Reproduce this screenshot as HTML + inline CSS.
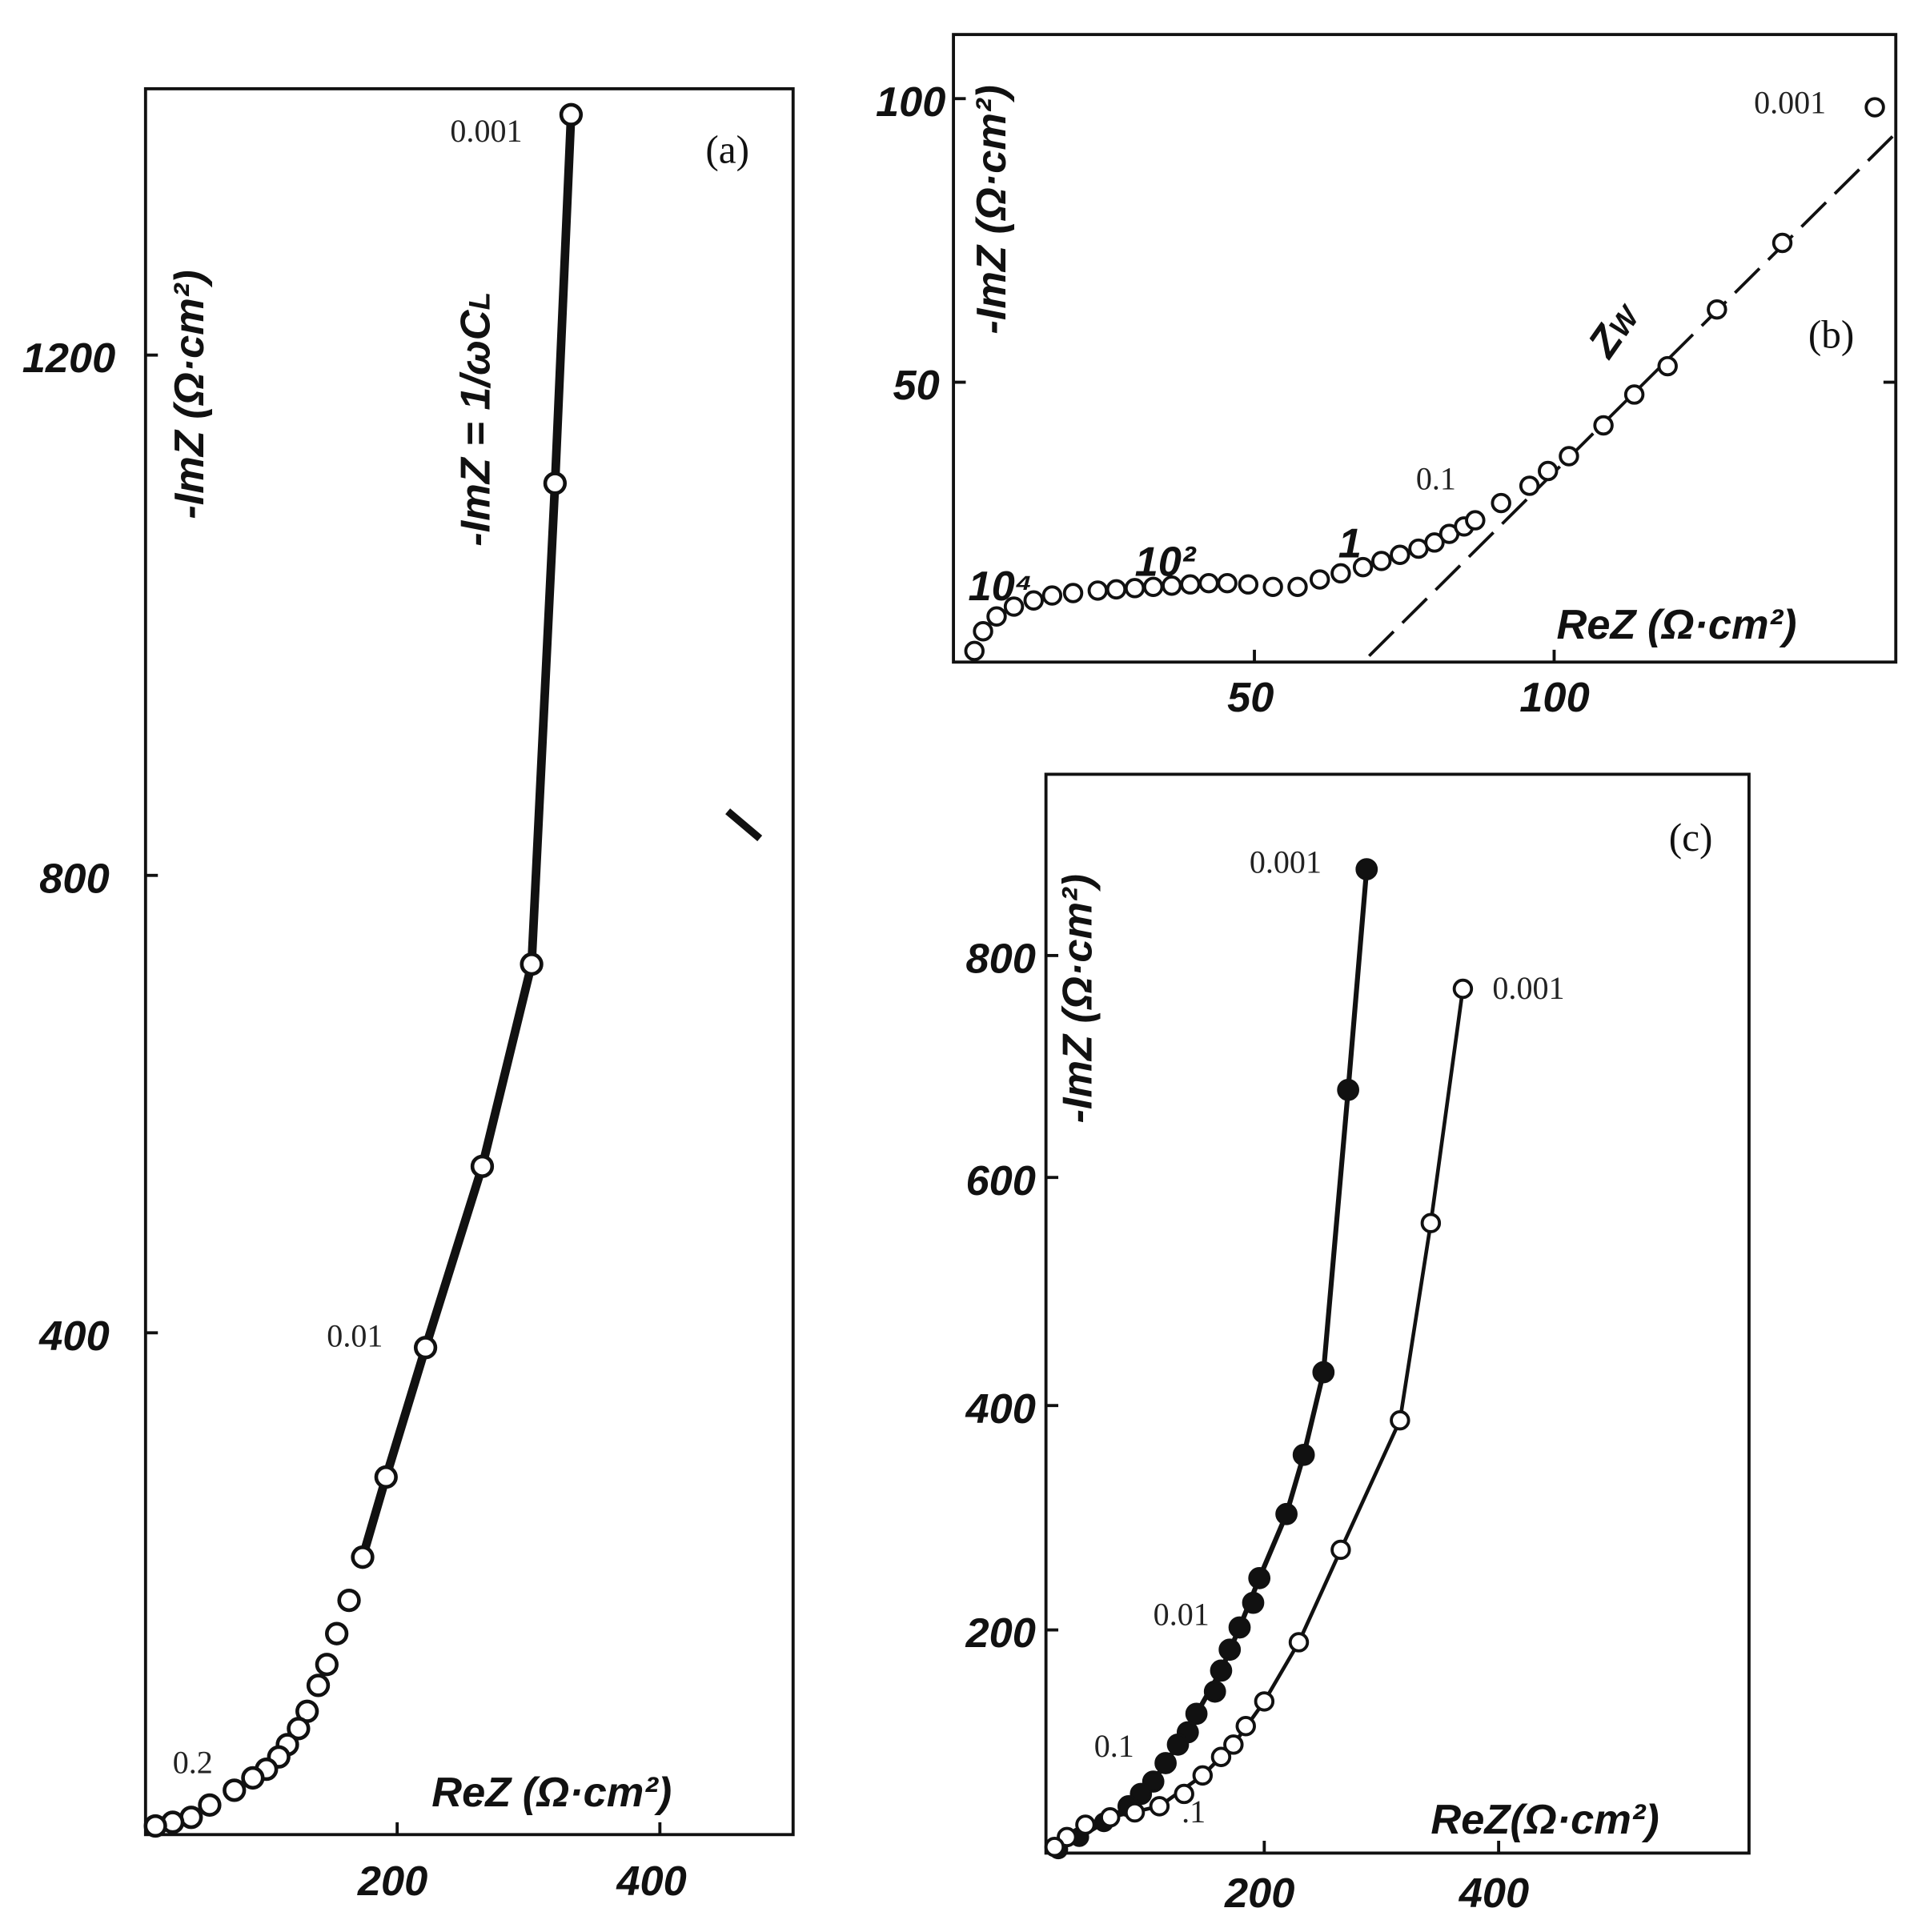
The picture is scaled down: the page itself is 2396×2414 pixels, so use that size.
<!DOCTYPE html>
<html><head><meta charset="utf-8"><style>
html,body{margin:0;padding:0;background:#fff;}
svg{display:block;}
.ax{font-family:"Liberation Sans",sans-serif;font-style:italic;font-weight:bold;font-size:34px;fill:#111;}
.lb{font-family:"Liberation Serif",serif;font-size:26px;fill:#222;}
.pn{font-family:"Liberation Serif",serif;font-size:32px;fill:#111;}
</style></head><body>
<svg width="2396" height="2414" viewBox="0 0 1555 1567" preserveAspectRatio="none" xmlns="http://www.w3.org/2000/svg">
<rect width="1555" height="1567" fill="#fff"/>
<!-- Panel a -->
<g fill="none" stroke="#111" stroke-width="2.5">
<rect x="118" y="72" width="525" height="1416"/>
<line x1="118" y1="288" x2="128" y2="288"/><line x1="118" y1="710" x2="128" y2="710"/><line x1="118" y1="1081" x2="128" y2="1081"/>
<line x1="322" y1="1488" x2="322" y2="1478"/><line x1="535" y1="1488" x2="535" y2="1478"/>
<polyline stroke-width="7" points="463,93 450,392 431,782 391,946 345,1093 313,1198 294,1263"/>
<line x1="590" y1="658" x2="616" y2="680" stroke-width="6"/>
</g>
<g fill="#fff" stroke="#111" stroke-width="3">
<circle cx="463" cy="93" r="8"/><circle cx="450" cy="392" r="8"/><circle cx="431" cy="782" r="8"/><circle cx="391" cy="946" r="8"/><circle cx="345" cy="1093" r="8"/><circle cx="313" cy="1198" r="8"/><circle cx="294" cy="1263" r="8"/><circle cx="283" cy="1298" r="8"/><circle cx="273" cy="1325" r="8"/><circle cx="265" cy="1350" r="8"/><circle cx="258" cy="1367" r="8"/><circle cx="249" cy="1388" r="8"/><circle cx="242" cy="1402" r="8"/><circle cx="233" cy="1415" r="8"/><circle cx="226" cy="1425" r="8"/><circle cx="216" cy="1435" r="8"/><circle cx="205" cy="1442" r="8"/><circle cx="190" cy="1452" r="8"/><circle cx="170" cy="1464" r="8"/><circle cx="155" cy="1474" r="8"/><circle cx="140" cy="1478" r="8"/><circle cx="126" cy="1481" r="8"/>
</g>
<text class="ax" x="18" y="302">1200</text><text class="ax" x="32" y="724">800</text><text class="ax" x="32" y="1095">400</text>
<text class="ax" x="290" y="1537">200</text><text class="ax" x="500" y="1537">400</text>
<text class="ax" x="350" y="1465">ReZ (Ω·cm²)</text>
<text class="ax" transform="translate(165,320) rotate(-90)" text-anchor="middle">-ImZ (Ω·cm²)</text>
<text class="ax" transform="translate(397,340) rotate(-90)" text-anchor="middle">-ImZ = 1/ωC<tspan font-size="24">L</tspan></text>
<text class="lb" x="365" y="115">0.001</text><text class="lb" x="265" y="1092">0.01</text><text class="lb" x="140" y="1438">0.2</text>
<text class="pn" x="572" y="132">(a)</text>
<!-- Panel b -->
<g fill="none" stroke="#111" stroke-width="2.5">
<rect x="773" y="28" width="764" height="509"/>
<line x1="773" y1="80" x2="783" y2="80"/><line x1="773" y1="310" x2="783" y2="310"/>
<line x1="1017" y1="537" x2="1017" y2="527"/><line x1="1260" y1="537" x2="1260" y2="527"/>
<line x1="1527" y1="310" x2="1537" y2="310"/>
<line x1="1110" y1="532" x2="1537" y2="108" stroke-dasharray="28,10" stroke-width="2.5"/>
</g>
<g fill="#fff" stroke="#111" stroke-width="2.5">
<circle cx="790" cy="528" r="7"/><circle cx="797" cy="512" r="7"/><circle cx="808" cy="500" r="7"/><circle cx="822" cy="492" r="7"/><circle cx="838" cy="487" r="7"/><circle cx="853" cy="483" r="7"/><circle cx="870" cy="481" r="7"/><circle cx="890" cy="479" r="7"/><circle cx="905" cy="478" r="7"/><circle cx="920" cy="477" r="7"/><circle cx="935" cy="476" r="7"/><circle cx="950" cy="475" r="7"/><circle cx="965" cy="474" r="7"/><circle cx="980" cy="473" r="7"/><circle cx="995" cy="473" r="7"/><circle cx="1012" cy="474" r="7"/><circle cx="1032" cy="476" r="7"/><circle cx="1052" cy="476" r="7"/><circle cx="1070" cy="470" r="7"/><circle cx="1087" cy="465" r="7"/><circle cx="1105" cy="460" r="7"/><circle cx="1120" cy="455" r="7"/><circle cx="1135" cy="450" r="7"/><circle cx="1150" cy="445" r="7"/><circle cx="1163" cy="440" r="7"/><circle cx="1175" cy="433" r="7"/><circle cx="1187" cy="427" r="7"/><circle cx="1196" cy="422" r="7"/><circle cx="1217" cy="408" r="7"/><circle cx="1240" cy="394" r="7"/><circle cx="1255" cy="382" r="7"/><circle cx="1272" cy="370" r="7"/><circle cx="1300" cy="345" r="7"/><circle cx="1325" cy="320" r="7"/><circle cx="1352" cy="297" r="7"/><circle cx="1392" cy="251" r="7"/><circle cx="1445" cy="197" r="7"/><circle cx="1520" cy="87" r="7"/>
</g>
<text class="ax" x="710" y="94">100</text><text class="ax" x="724" y="324">50</text>
<text class="ax" x="995" y="577">50</text><text class="ax" x="1232" y="577">100</text>
<text class="ax" x="1262" y="518">ReZ (Ω·cm²)</text>
<text class="ax" transform="translate(815,170) rotate(-90)" text-anchor="middle">-ImZ (Ω·cm²)</text>
<text class="ax" transform="translate(1305,292) rotate(-55)">Z<tspan font-size="24">W</tspan></text>
<text class="ax" x="785" y="487" font-size="28">10⁴</text><text class="ax" x="920" y="467" font-size="28">10²</text><text class="ax" x="1085" y="452" font-size="28">1</text>
<text class="lb" x="1148" y="397">0.1</text><text class="lb" x="1422" y="92">0.001</text>
<text class="pn" x="1466" y="282">(b)</text>
<!-- Panel c -->
<g fill="none" stroke="#111" stroke-width="2.5">
<rect x="848" y="628" width="570" height="875"/>
<line x1="848" y1="775" x2="858" y2="775"/><line x1="848" y1="955" x2="858" y2="955"/><line x1="848" y1="1140" x2="858" y2="1140"/><line x1="848" y1="1322" x2="858" y2="1322"/>
<line x1="1025" y1="1503" x2="1025" y2="1493"/><line x1="1215" y1="1503" x2="1215" y2="1493"/>
<polyline stroke-width="4" points="1108,705 1093,884 1073,1113 1057,1180 1043,1228 1021,1280 1005,1320 990,1355 970,1390 955,1415 935,1445 915,1465 895,1478 875,1490 855,1500"/>
<polyline stroke-width="3" points="1186,802 1160,992 1135,1152 1087,1257 1053,1332 1025,1380 1000,1415 975,1440 940,1465 900,1474 865,1490 855,1498"/>
</g>
<g fill="#111" stroke="#111" stroke-width="2">
<circle cx="1108" cy="705" r="8"/><circle cx="1093" cy="884" r="8"/><circle cx="1073" cy="1113" r="8"/><circle cx="1057" cy="1180" r="8"/><circle cx="1043" cy="1228" r="8"/><circle cx="1021" cy="1280" r="8"/><circle cx="1016" cy="1300" r="8"/><circle cx="1005" cy="1320" r="8"/><circle cx="997" cy="1338" r="8"/><circle cx="990" cy="1355" r="8"/><circle cx="985" cy="1372" r="8"/><circle cx="970" cy="1390" r="8"/><circle cx="963" cy="1405" r="8"/><circle cx="955" cy="1415" r="8"/><circle cx="945" cy="1430" r="8"/><circle cx="935" cy="1445" r="8"/><circle cx="925" cy="1455" r="8"/><circle cx="915" cy="1465" r="8"/><circle cx="895" cy="1478" r="7"/><circle cx="875" cy="1490" r="7"/><circle cx="858" cy="1500" r="7"/>
</g>
<g fill="#fff" stroke="#111" stroke-width="2.5">
<circle cx="1186" cy="802" r="7"/><circle cx="1160" cy="992" r="7"/><circle cx="1135" cy="1152" r="7"/><circle cx="1087" cy="1257" r="7"/><circle cx="1053" cy="1332" r="7"/><circle cx="1025" cy="1380" r="7"/><circle cx="1010" cy="1400" r="7"/><circle cx="1000" cy="1415" r="7"/><circle cx="990" cy="1425" r="7"/><circle cx="975" cy="1440" r="7"/><circle cx="960" cy="1455" r="7"/><circle cx="940" cy="1465" r="7"/><circle cx="920" cy="1470" r="7"/><circle cx="900" cy="1474" r="7"/><circle cx="880" cy="1480" r="7"/><circle cx="865" cy="1490" r="7"/><circle cx="855" cy="1498" r="7"/>
</g>
<text class="ax" x="783" y="789">800</text><text class="ax" x="783" y="969">600</text><text class="ax" x="783" y="1154">400</text><text class="ax" x="783" y="1336">200</text>
<text class="ax" x="993" y="1547">200</text><text class="ax" x="1183" y="1547">400</text>
<text class="ax" x="1160" y="1487">ReZ(Ω·cm²)</text>
<text class="ax" transform="translate(885,810) rotate(-90)" text-anchor="middle">-ImZ (Ω·cm²)</text>
<text class="lb" x="1013" y="708">0.001</text><text class="lb" x="1210" y="810">0.001</text><text class="lb" x="935" y="1318">0.01</text><text class="lb" x="887" y="1425">0.1</text><text class="lb" x="958" y="1478">.1</text>
<text class="pn" x="1353" y="690">(c)</text>
</svg>
</body></html>
